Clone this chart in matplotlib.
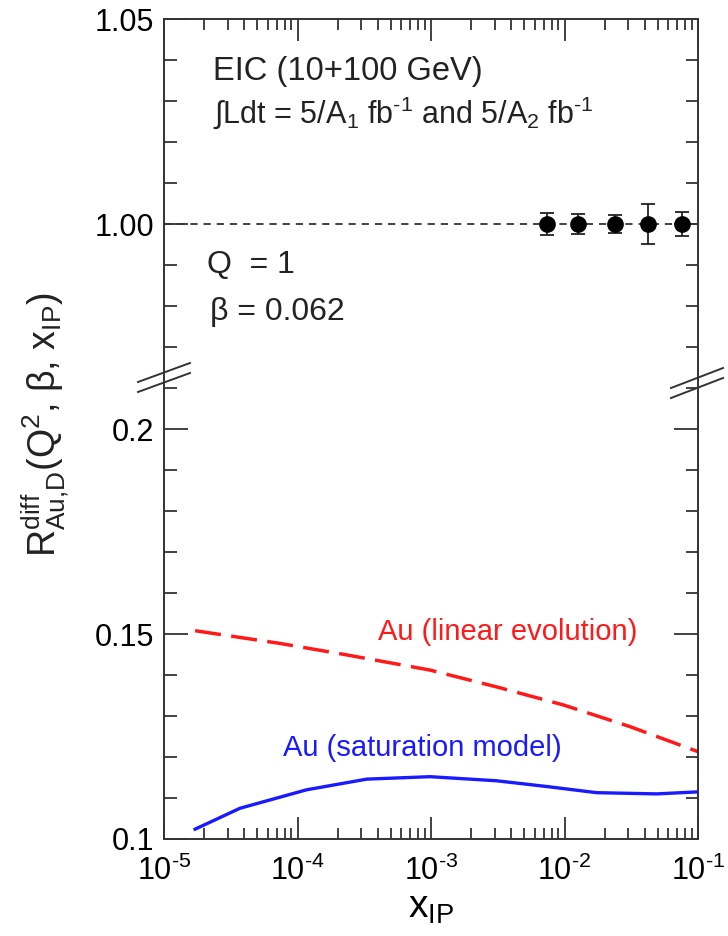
import numpy as np
import matplotlib
matplotlib.use('Agg')
import matplotlib.pyplot as plt
from matplotlib.lines import Line2D
from matplotlib.ticker import MultipleLocator, FixedLocator, FixedFormatter, LogLocator

plt.rcParams['font.family'] = ['Liberation Sans', 'DejaVu Sans']
plt.rcParams['mathtext.fontset'] = 'custom'
plt.rcParams['mathtext.rm'] = 'Liberation Sans'
plt.rcParams['mathtext.it'] = 'Liberation Sans:italic'
plt.rcParams['mathtext.default'] = 'regular'
plt.rcParams['axes.unicode_minus'] = False

# --- data ---
x_pseudo = [7.36e-3, 1.27e-2, 2.39e-2, 4.20e-2, 7.55e-2]
r_pseudo = [1.0, 1.0, 1.0, 1.0, 1.0]
err_pseudo = [0.0026, 0.0025, 0.0022, 0.0048, 0.0030]

x_lin = [1.71e-5, 7.4e-5, 2.34e-4, 9.84e-4, 3.10e-3, 9.8e-3, 3.10e-2, 1e-1]
r_lin = [0.1508, 0.1477, 0.1449, 0.1412, 0.1371, 0.1327, 0.1274, 0.1213]

x_sat = [1.71e-5, 3.71e-5, 1.17e-4, 3.30e-4, 9.84e-4, 3.10e-3, 7.36e-3, 1.74e-2, 4.91e-2, 1e-1]
r_sat = [0.1024, 0.1075, 0.1120, 0.1146, 0.1152, 0.1142, 0.1128, 0.1113, 0.1110, 0.1115]

x_ticks = [1e-5, 1e-4, 1e-3, 1e-2, 1e-1]
x_ticklabels = [r'$10^{\text{-5}}$', r'$10^{\text{-4}}$', r'$10^{\text{-3}}$',
                r'$10^{\text{-2}}$', r'$10^{\text{-1}}$']

W, H = 728, 936
ax_l, ax_r = 164, 698
y_top, y_brk, y_bot = 19, 380, 839
px_per_unit = 4100  # 41 px per 0.01 in both panels

fig = plt.figure(figsize=(W / 100, H / 100), dpi=100)
ax_up = fig.add_axes([ax_l / W, 1 - y_brk / H, (ax_r - ax_l) / W, (y_brk - y_top) / H])
ax_lo = fig.add_axes([ax_l / W, 1 - y_bot / H, (ax_r - ax_l) / W, (y_bot - y_brk) / H], sharex=ax_up)

spine_col = '#333333'
for ax in (ax_up, ax_lo):
    ax.set_xscale('log')
    ax.set_xlim(1e-5, 1e-1)
    for s in ax.spines.values():
        s.set_color(spine_col)
        s.set_linewidth(1.4)
    ax.tick_params(which='both', direction='in', color=spine_col, width=1.3,
                   labelsize=22, left=True, right=True)
    ax.tick_params(axis='y', which='major', length=17, pad=7)
    ax.tick_params(axis='y', which='minor', length=9)
    ax.tick_params(axis='x', which='major', length=16)
    ax.tick_params(axis='x', which='minor', length=8)
    ax.xaxis.set_major_locator(FixedLocator(x_ticks))
    ax.xaxis.set_major_formatter(FixedFormatter(x_ticklabels))
    ax.xaxis.set_minor_locator(LogLocator(base=10, subs=np.arange(2, 10), numticks=20))

# upper panel
ax_up.set_ylim(1.05 - (y_brk - y_top) / px_per_unit, 1.05)
ax_up.spines['bottom'].set_visible(False)
ax_up.tick_params(axis='x', which='both', bottom=False, top=True, labelbottom=False)
ax_up.yaxis.set_major_locator(FixedLocator([1.00, 1.05]))
ax_up.yaxis.set_major_formatter(FixedFormatter(['1.00', '1.05']))
ax_up.yaxis.set_minor_locator(MultipleLocator(0.01))

ax_up.axhline(1.0, color=spine_col, lw=1.3, dashes=(4, 3.3))
ax_up.errorbar(x_pseudo, r_pseudo, yerr=err_pseudo, fmt='o', color='black',
               ms=11, ecolor='#222222', elinewidth=1.3, capsize=5, capthick=1.3, zorder=5)

ax_up.text(2.33e-5, 1.0372, 'EIC (10+100 GeV)', fontsize=23.5, va='center', color='#222222')
ax_up.text(2.33e-5, 1.0271,
           r'∫Ldt = 5/A$_1$ fb$^{\text{-1}}$ and 5/A$_2$ fb$^{\text{-1}}$',
           fontsize=22, va='center', color='#222222')
ax_up.text(2.1e-5, 0.9900, 'Q  = 1', fontsize=23, va='center', color='#222222')
ax_up.text(2.2e-5, 0.9785, 'β = 0.062', fontsize=23, va='center', color='#222222')

# lower panel
ax_lo.set_ylim(0.1, 0.1 + (y_bot - y_brk) / px_per_unit)
ax_lo.spines['top'].set_visible(False)
ax_lo.tick_params(axis='x', which='both', bottom=True, top=False, pad=12)
ax_lo.yaxis.set_major_locator(FixedLocator([0.10, 0.15, 0.20]))
ax_lo.yaxis.set_major_formatter(FixedFormatter(['0.1', '0.15', '0.2']))
ax_lo.yaxis.set_minor_locator(MultipleLocator(0.01))

ax_lo.plot(x_lin, r_lin, color='#ff1a1a', lw=2.5, dashes=(7.5, 3))
ax_lo.plot(x_sat, r_sat, color='#1a1aff', lw=2.4)
ax_lo.text(4.0e-4, 0.1505, 'Au (linear evolution)', color='#ff1a1a', fontsize=21, va='center')
ax_lo.text(7.75e-5, 0.1222, 'Au (saturation model)', color='#1a1aff', fontsize=21, va='center')

ax_lo.set_xlabel(r'x$_{IP}$', fontsize=28, labelpad=2)

fig.text(46 / W, 1 - 425 / H, r'R$^{diff}_{Au{,}D}$(Q$^2$, β, x$_{IP}$)', rotation=90,
         fontsize=27, ha='center', va='center', color='#222222')

# axis-break slashes
def px(x, y):
    return x / W, 1 - y / H

for seg in [((138, 382), (190, 363)), ((138, 392), (190, 373)),
            ((671, 388), (723, 368)), ((671, 398), (723, 378))]:
    (x0, y0), (x1, y1) = px(*seg[0]), px(*seg[1])
    fig.add_artist(Line2D([x0, x1], [y0, y1], transform=fig.transFigure,
                          color=spine_col, lw=1.4))

fig.savefig('out.png', dpi=100)
